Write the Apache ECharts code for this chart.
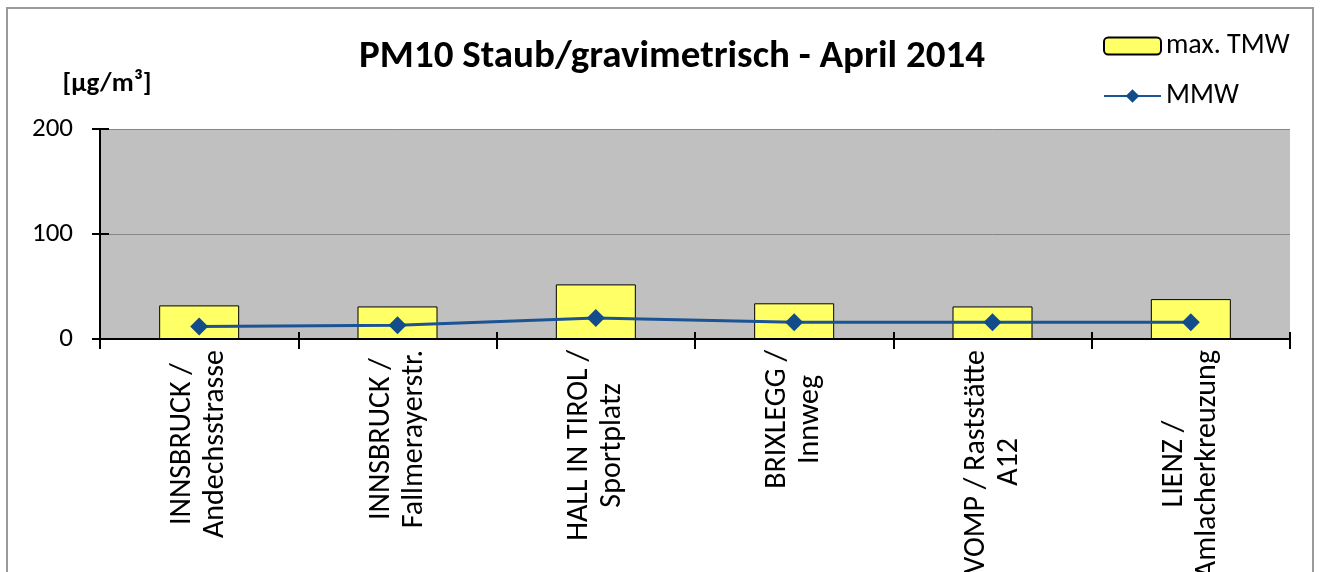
<!DOCTYPE html>
<html>
<head>
<meta charset="utf-8">
<script type="text/javascript" src="https://cdn.jsdelivr.net/npm/echarts@6/dist/echarts.min.js"></script>
<style>
    html, body { margin: 0; padding: 0; background: #fff; }
    #main { width: 1322px; height: 572px; }
</style>
</head>
<body>
<div id="main"></div>

<script type="text/javascript">
    var stations = [
        'INNSBRUCK /\nAndechsstrasse',
        'INNSBRUCK /\nFallmerayerstr.',
        'HALL IN TIROL /\nSportplatz',
        'BRIXLEGG /\nInnweg',
        'VOMP / Raststätte\nA12',
        'LIENZ /\nAmlacherkreuzung'
    ];
    var maxTmw = [32, 31, 52, 34, 31, 38];
    var mmw = [12, 13, 20, 16, 16, 16];
    var yTicks = [0, 100, 200];

    var fontName = 'Carlito, Lato, "Open Sans", sans-serif';

    var myChart = echarts.init(document.getElementById('main'), null, {renderer: 'canvas'});
    option = {
        backgroundColor: '#ffffff',
        animation: false,
        textStyle: { fontFamily: fontName, color: '#000' },
        title: {
            text: 'PM10 Staub/gravimetrisch - April 2014',
            left: 667,
            top: 33,
            textAlign: 'center',
            textStyle: { fontFamily: fontName, fontSize: 39, fontWeight: 'bold', color: '#000' }
        },
        legend: {
            orient: 'vertical',
            left: 1103,
            top: 32,
            padding: 0,
            itemGap: 22,
            itemWidth: 57,
            itemHeight: 17,
            textStyle: { fontFamily: fontName, fontSize: 28, color: '#000' },
            data: ['max. TMW', 'MMW']
        },
        graphic: [{
            type: 'rect',
            shape: { x: 7, y: 8, width: 1306, height: 620 },
            style: { fill: 'none', stroke: '#9a9a9a', lineWidth: 2 },
            silent: true,
            z: -1
        }],
        grid: [
            { left: 100, right: 32, top: 129, bottom: 233, outerBoundsMode: 'none', containLabel: false,
              show: true, backgroundColor: '#c0c0c0', borderWidth: 0 },
            { left: 100, right: 32, top: 129, bottom: 233, outerBoundsMode: 'none', containLabel: false }
        ],
        xAxis: [{
            type: 'category',
            gridIndex: 0,
            data: stations,
            axisLine: { lineStyle: { color: '#000', width: 2 } },
            axisTick: { show: true, length: 10, lineStyle: { color: '#000', width: 2 } },
            axisLabel: {
                interval: 0,
                rotate: 90,
                margin: 11,
                fontSize: 30,
                lineHeight: 33,
                color: '#000',
                formatter: function (v) {
                    return v.split('\n').map(function (s) { return '{c|' + s + '}'; }).join('\n');
                },
                rich: {
                    c: { align: 'center', fontSize: 30, lineHeight: 33, fontFamily: fontName, color: '#000' }
                }
            }
        }, {
            // zweite Achse nur fuer die Kreuz-Teilstriche
            type: 'category',
            gridIndex: 1,
            data: stations,
            axisLine: { show: false },
            axisTick: { show: true, inside: true, length: 7, lineStyle: { color: '#000', width: 2 } },
            axisLabel: { show: false }
        }],
        yAxis: [{
            type: 'value',
            gridIndex: 0,
            min: yTicks[0],
            max: yTicks[yTicks.length - 1],
            interval: 100,
            name: '[µg/m³]',
            nameLocation: 'end',
            nameGap: 31,
            nameTextStyle: { fontFamily: fontName, fontSize: 27, fontWeight: 'bold', color: '#000', padding: [0, 0, 0, 14] },
            axisLine: { show: true, lineStyle: { color: '#000', width: 2 } },
            axisTick: { show: true, length: 8, lineStyle: { color: '#000', width: 2 } },
            axisLabel: { margin: 27, fontSize: 27, color: '#000' },
            splitLine: { show: true, lineStyle: { color: '#868686', width: 1 } }
        }, {
            type: 'value',
            gridIndex: 1,
            min: yTicks[0],
            max: yTicks[yTicks.length - 1],
            interval: 100,
            axisLine: { show: false },
            axisTick: { show: true, inside: true, length: 9, lineStyle: { color: '#000', width: 2 } },
            axisLabel: { show: false },
            splitLine: { show: false }
        }],
        series: [
            {
                name: 'max. TMW',
                type: 'bar',
                barWidth: 80,
                data: maxTmw,
                itemStyle: { color: '#ffff66', borderColor: '#000', borderWidth: 1 }
            },
            {
                name: 'MMW',
                type: 'line',
                data: mmw,
                symbol: 'diamond',
                symbolSize: 18,
                lineStyle: { color: '#1b5394', width: 3 },
                itemStyle: { color: '#124c8a' }
            }
        ]
    };
    myChart.setOption(option);
</script>
</body>
</html>
